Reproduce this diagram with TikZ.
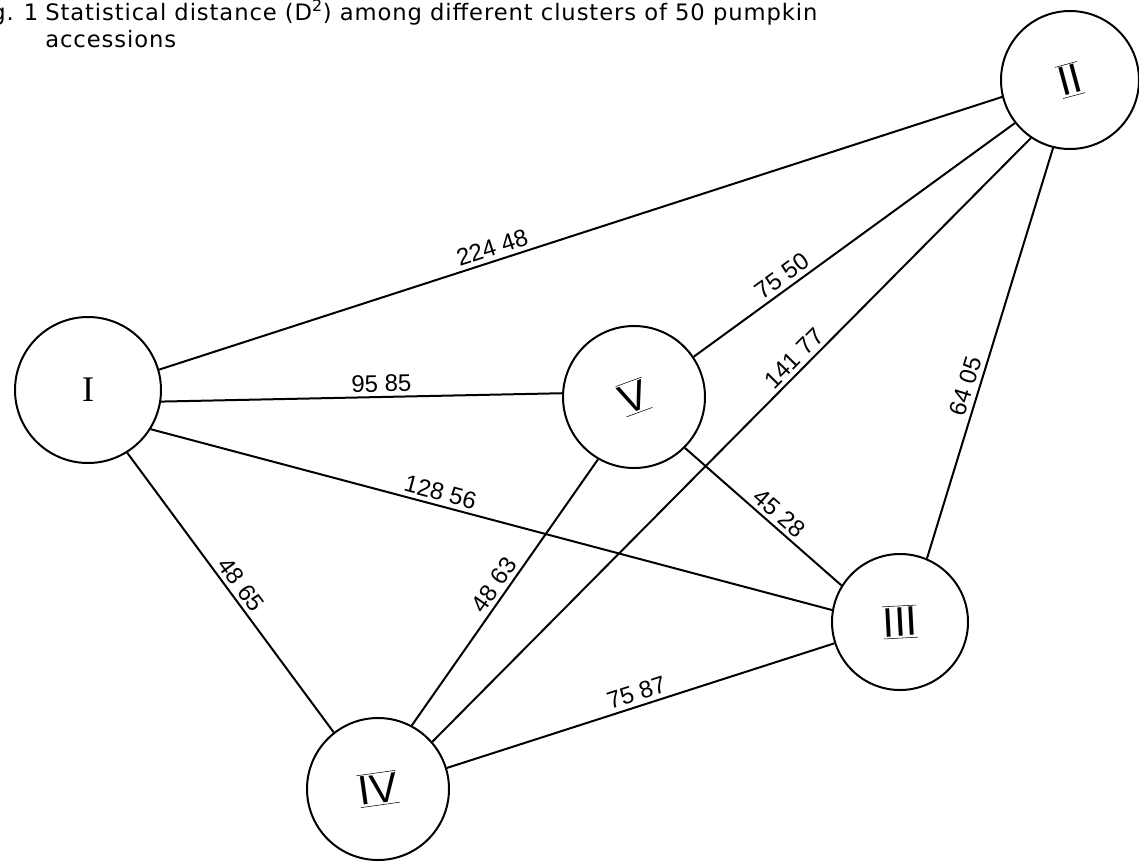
\documentclass[tikz,border=0pt]{standalone}
\usepackage{fontspec}
\setmainfont{Liberation Sans}
\newfontfamily\serifnum{Liberation Serif}
\newfontfamily\ttlfont{DejaVu Sans}[LetterSpace=4]
\begin{document}
\begin{tikzpicture}[x=0.75pt,y=-0.75pt,
  cl/.style={circle,draw,line width=1.5pt,inner sep=0pt},
  edge/.style={line width=1.5pt},
  dist/.style={font=\fontsize{18}{18}\selectfont,sloped,above,inner sep=3pt},
  numf/.style={font=\fontsize{31}{31}\selectfont},
  ttl/.style={anchor=base west,inner sep=0pt,font=\ttlfont\fontsize{17}{19}\selectfont}]
\useasboundingbox (0,0) rectangle (1139,861);
\node[ttl] (title1) at (-9,20)
  {\makebox[40.5pt][l]{\makebox[24.5pt][l]{g.}1}Statistical distance (D\textsuperscript{2}) among different clusters of 50 pumpkin};
\node[ttl] (title2) at (45,47) {accessions};
\node[cl,minimum size=109.5pt,numf] (i) at (88,390) {\serifnum\fontsize{27}{27}\selectfont I};
\node[cl,minimum size=103.5pt,numf] (ii) at (1070,80) {\rotatebox{15}{$\overline{\underline{\textrm{II}}}$}};
\node[cl,minimum size=106.5pt,numf] (v) at (634,397) {\rotatebox{20}{$\overline{\underline{\textrm{V}}}$}};
\node[cl,minimum size=102pt,numf] (iii) at (900,622) {\rotatebox{3}{$\overline{\underline{\textrm{III}}}$}};
\node[cl,minimum size=106.5pt,numf] (iv) at (378,789) {\rotatebox{8}{$\overline{\underline{\textrm{IV}}}$}};
\draw[edge] (i.16) -- node[dist,pos=0.4]{224 48} (ii.194);
\draw[edge] (i.-9) -- node[dist,pos=0.55]{95 85} (v.177);
\draw[edge] (i.-32) -- node[dist,pos=0.42]{128 56} (iii.170);
\draw[edge] (i.-58) -- node[dist,pos=0.5]{48 65} (iv.128);
\draw[edge] (v.34.5) -- node[dist,pos=0.3]{75 50} (ii.218);
\draw[edge] (iv.41) -- node[dist,pos=0.62]{141 77} (ii.236);
\draw[edge] (iii.67) -- node[dist,pos=0.41]{64 05} (ii.256);
\draw[edge] (v.-45) -- node[dist,pos=0.55]{45 28} (iii.148);
\draw[edge] (iv.62) -- node[dist,pos=0.5]{48 63} (v.-120);
\draw[edge] (iv.17) -- node[dist,pos=0.5]{75 87} (iii.198);
\end{tikzpicture}
\end{document}
